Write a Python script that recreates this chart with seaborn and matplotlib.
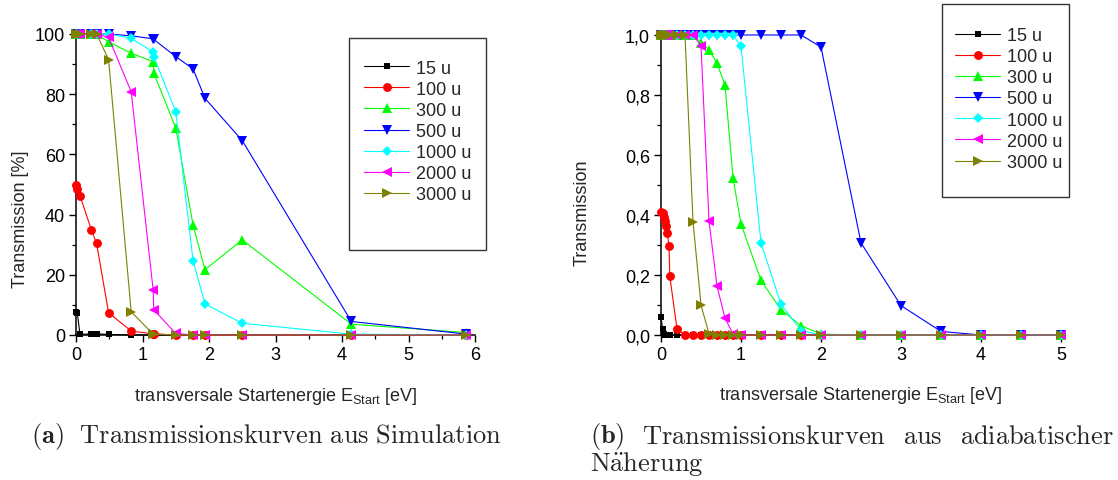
import matplotlib
matplotlib.use("Agg")
import matplotlib.pyplot as plt
from matplotlib.lines import Line2D
from matplotlib.patches import Rectangle
from matplotlib.ticker import MultipleLocator, FuncFormatter
import pandas as pd
import seaborn as sns

# ---- series definitions -------------------------------------------------
masses = ["15 u", "100 u", "300 u", "500 u", "1000 u", "2000 u", "3000 u"]
colors = ["#000000", "#ff0000", "#00ff00", "#0000ff", "#00ffff", "#ff00ff", "#808000"]
marker_shapes = ["s", "o", "^", "v", "D", "<", ">"]

# (a) simulated transmission [%] vs. transverse start energy [eV]
energy_sim = [0, 0.02, 0.06, 0.23, 0.31, 0.49, 0.83, 1.16, 1.17, 1.5, 1.76, 1.94, 2.5, 4.14, 5.87]
sim_15 = [7.5, 7.3, 0.2, 0.4, 0.4, 0.2, 0, 0, 0, 0, 0, 0, 0, 0, 0]
sim_100 = [50, 48.5, 46.3, 35.0, 30.4, 7.4, 1.3, 0.4, 0.4, 0, 0, 0, 0, 0, 0]
sim_300 = [100, 100, 100, 100, 100, 97.4, 93.6, 90.8, 87.0, 68.8, 36.6, 21.7, 31.6, 3.6, 0.8]
sim_500 = [100, 100, 100, 100, 100, 100, 99.4, 98.4, 98.2, 92.5, 88.4, 78.6, 64.6, 4.5, 0.3]
sim_1000 = [100, 100, 100, 100, 100, 100, 98.6, 94.0, 92.5, 74.2, 24.7, 10.3, 3.9, 0.3, 0]
sim_2000 = [100, 100, 100, 100, 100, 98.9, 80.8, 15.0, 8.4, 0.5, 0, 0, 0, 0, 0]
sim_3000 = [100, 100, 100, 100, 100, 91.5, 7.7, 0.3, 0.3, 0, 0, 0, 0, 0, 0]

# (b) adiabatic approximation: transmission (fraction) vs. transverse start energy [eV]
energy_adi = [0, 0.02, 0.04, 0.05, 0.06, 0.08, 0.1, 0.11, 0.2, 0.3, 0.4, 0.5, 0.6, 0.7,
              0.8, 0.9, 1.0, 1.25, 1.5, 1.75, 2.0, 2.5, 3.0, 3.5, 4.0, 4.5, 5.0]
adi_15 = [0.06, 0.02, 0.005] + [0] * 24
adi_100 = [0.41, 0.408, 0.394, 0.38, 0.365, 0.339, 0.297, 0.196, 0.02] + [0] * 18
adi_300 = [1.0] * 11 + [0.975, 0.95, 0.906, 0.833, 0.524, 0.37, 0.182, 0.084, 0.031, 0.003,
                        0, 0, 0, 0, 0, 0]
adi_500 = [1.0] * 20 + [0.96, 0.307, 0.098, 0.012, 0, 0, 0]
adi_1000 = [1.0] * 16 + [0.962, 0.307, 0.102, 0.015, 0, 0, 0, 0, 0, 0, 0]
adi_2000 = [1.0] * 11 + [0.965, 0.38, 0.163, 0.056, 0.004] + [0] * 11
adi_3000 = [1.0] * 10 + [0.378, 0.10, 0.004] + [0] * 14


def long_form(energy, series):
    rows = []
    for name, values in zip(masses, series):
        for e, v in zip(energy, values):
            rows.append({"E": e, "T": v, "mass": name})
    return pd.DataFrame(rows)


df_sim = long_form(energy_sim, [sim_15, sim_100, sim_300, sim_500, sim_1000, sim_2000, sim_3000])
df_adi = long_form(energy_adi, [adi_15, adi_100, adi_300, adi_500, adi_1000, adi_2000, adi_3000])

# ---- style ---------------------------------------------------------------
sns.set_style("ticks")
plt.rcParams["font.family"] = ["Liberation Sans", "DejaVu Sans"]
plt.rcParams["mathtext.fontset"] = "custom"
plt.rcParams["mathtext.rm"] = "Liberation Sans"
plt.rcParams["mathtext.it"] = "Liberation Sans:italic"
plt.rcParams["mathtext.bf"] = "Liberation Sans:bold"

W, H = 1118, 481
fig = plt.figure(figsize=(W / 100, H / 100), dpi=100)
fig.patch.set_facecolor("white")

ax_a = fig.add_axes([76 / W, 1 - 336 / H, 399 / W, 301 / H])
ax_b = fig.add_axes([661 / W, 1 - 336 / H, 400 / W, 300 / H])

palette = dict(zip(masses, colors))
marker_map = dict(zip(masses, marker_shapes))
marker_size = {"s": 4.6, "o": 6.4, "^": 7.4, "v": 7.4, "D": 5.6, "<": 7.4, ">": 7.4}
label_size = 13

for ax, df in ((ax_a, df_sim), (ax_b, df_adi)):
    sns.lineplot(data=df, x="E", y="T", hue="mass", style="mass",
                 hue_order=masses, style_order=masses, palette=palette,
                 markers=marker_map, dashes=False, estimator=None, sort=True,
                 lw=0.8, mew=0, clip_on=False, legend=False, ax=ax)
    for line in ax.get_lines():
        line.set_markersize(marker_size.get(line.get_marker(), 6))
        line.set_zorder(3)
    sns.despine(ax=ax)
    for side in ("left", "bottom"):
        ax.spines[side].set_linewidth(1.1)
        ax.spines[side].set_color("black")
        ax.spines[side].set_zorder(2)
    ax.tick_params(which="major", length=5, width=1.0, labelsize=label_size, pad=3,
                   color="black", labelcolor="black")
    ax.tick_params(which="minor", length=3, width=0.9, color="black")
    ax.set_facecolor("white")
    ax.grid(False)

# panel (a) axes
ax_a.set_xlim(0, 6)
ax_a.set_ylim(0, 100)
ax_a.xaxis.set_major_locator(MultipleLocator(1))
ax_a.xaxis.set_minor_locator(MultipleLocator(0.5))
ax_a.yaxis.set_major_locator(MultipleLocator(20))
ax_a.yaxis.set_minor_locator(MultipleLocator(10))
ax_a.set_ylabel("Transmission [%]", fontsize=label_size)
ax_a.yaxis.set_label_coords(-0.118, 0.387)

# panel (b) axes
ax_b.set_xlim(0, 5)
ax_b.set_ylim(0, 1.0)
ax_b.xaxis.set_major_locator(MultipleLocator(1))
ax_b.xaxis.set_minor_locator(MultipleLocator(0.5))
ax_b.yaxis.set_major_locator(MultipleLocator(0.2))
ax_b.yaxis.set_minor_locator(MultipleLocator(0.1))
ax_b.yaxis.set_major_formatter(FuncFormatter(lambda v, _: f"{v:.1f}".replace(".", ",")))
ax_b.set_ylabel("Transmission", fontsize=label_size)
ax_b.yaxis.set_label_coords(-0.177, 0.412)

xlabel = r"transversale Startenergie E$_{\mathrm{Start}}$ [eV]"
for ax in (ax_a, ax_b):
    ax.set_xlabel(xlabel, fontsize=label_size)
    ax.xaxis.set_label_coords(0.5, -0.165)

# ---- legends (boxed, placed in figure pixels) ---------------------------
handles = [Line2D([], [], color=c, marker=m, lw=0.8, mew=0, ms=marker_size[m])
           for c, m in zip(colors, marker_shapes)]


def boxed_legend(box, first_row_center, handle_x):
    x0, y0, x1, y1 = box
    fig.patches.append(Rectangle((x0 / W, 1 - y1 / H), (x1 - x0) / W, (y1 - y0) / H,
                                 transform=fig.transFigure, facecolor="white",
                                 edgecolor="#333333", lw=1.0, zorder=4))
    fig.legend(handles, masses, loc="upper left",
               bbox_to_anchor=(handle_x / W, 1 - (first_row_center - 10.5) / H),
               frameon=False, borderpad=0, borderaxespad=0, handlelength=2.5,
               handletextpad=0.4, labelspacing=0.23, fontsize=13, numpoints=1)


boxed_legend((349, 39, 486, 251), 71, 364)
boxed_legend((942, 5, 1069, 198), 38.5, 955)

# ---- sub-captions -------------------------------------------------------
cap_size = 19
fig.text(31 / W, 1 - 437 / H,
         r"$\mathbf{(a)}\ \ \mathrm{Transmissionskurven\ aus\ Simulation}$",
         fontsize=cap_size, math_fontfamily="cm", ha="left", va="center")

words = [r"$\mathbf{(b)}$", r"$\mathrm{Transmissionskurven}$", r"$\mathrm{aus}$",
         r"$\mathrm{adiabatischer}$"]
word_texts = [fig.text(0, 1 - 437 / H, w, fontsize=cap_size, math_fontfamily="cm",
                       ha="left", va="center") for w in words]
fig.text(590 / W, 1 - 464 / H, r"$\mathrm{N\ddot{a}herung}$", fontsize=cap_size,
         math_fontfamily="cm", ha="left", va="center")

fig.canvas.draw()
renderer = fig.canvas.get_renderer()
widths = [t.get_window_extent(renderer).width for t in word_texts]
left_px, right_px = 590, 1114
gap = (right_px - left_px - sum(widths)) / (len(words) - 1)
x = left_px
for t, w in zip(word_texts, widths):
    t.set_x(x / W)
    x += w + gap

fig.savefig("out.png", dpi=100, facecolor="white")
